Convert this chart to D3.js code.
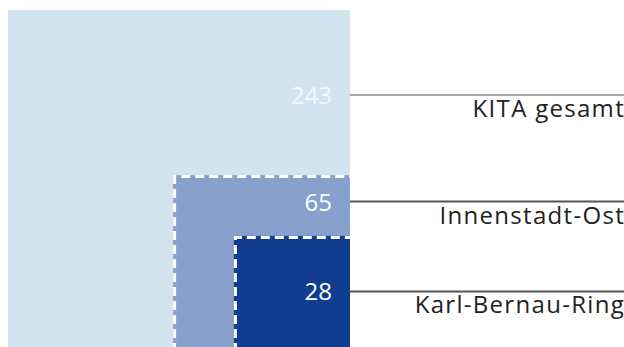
<!DOCTYPE html>
<html><head><meta charset="utf-8">
<script src="https://cdn.jsdelivr.net/npm/d3@7"></script>
<style>html,body{margin:0;padding:0;background:#fff;overflow:hidden}svg{display:block}</style>
</head><body>
<script>
const categories = ["KITA gesamt", "Innenstadt-Ost", "Karl-Bernau-Ring"];
const values = [243, 65, 28];
const colors = ["#d1e4ef", "#87a0cc", "#123d8f"];
const valueColors = ["rgba(255,255,255,0.72)", "#fff", "#fff"];

const W = 624, H = 347;
const chartRight = 350, chartBottom = 352, chartTop = 10;
const maxSide = chartBottom - chartTop;
const labelShift = [2.5, -4, 0];

const svg = d3.select("body").append("svg").attr("width", W).attr("height", H);
const side = d3.scaleSqrt().domain([0, d3.max(values)]).range([0, maxSide]);

const data = values.map((v, i) => ({v, i, s: side(v), name: categories[i]}));

svg.selectAll("rect.sq").data(data).join("rect")
  .attr("x", d => chartRight - d.s).attr("y", d => chartBottom - d.s)
  .attr("width", d => d.s).attr("height", d => d.s)
  .attr("fill", d => colors[d.i]);

data.slice(1).forEach(d => {
  svg.append("path")
    .attr("d", `M${chartRight - d.s + 1.5},${chartBottom}V${chartBottom - d.s + 1.5}H${chartRight}`)
    .attr("fill", "none").attr("stroke", "#fff").attr("stroke-width", 3)
    .attr("stroke-dasharray", "9,5");
});

const labelY = data.map((d, i) => {
  const t = chartBottom - d.s;
  const b = i < data.length - 1 ? chartBottom - data[i + 1].s : H;
  return (t + b) / 2 + labelShift[i];
});

svg.selectAll("line.lead").data(data).join("line")
  .attr("x1", chartRight).attr("x2", W)
  .attr("y1", (d, i) => labelY[i]).attr("y2", (d, i) => labelY[i])
  .attr("stroke", (d, i) => i === 0 ? "#a8a8a8" : "#555").attr("stroke-width", 2);

svg.selectAll("text.val").data(data).join("text")
  .attr("x", chartRight - 18).attr("y", (d, i) => labelY[i] + 9)
  .attr("text-anchor", "end")
  .attr("font-family", "Open Sans").attr("font-size", 24)
  .attr("fill", d => valueColors[d.i]).text(d => d.v);

svg.selectAll("text.cat").data(data).join("text")
  .attr("x", W + 1).attr("y", (d, i) => labelY[i] + 22)
  .attr("text-anchor", "end")
  .attr("font-family", "Open Sans").attr("font-size", 24)
  .attr("letter-spacing", 1.3)
  .attr("fill", "#222").text(d => d.name);
</script>
</body></html>
